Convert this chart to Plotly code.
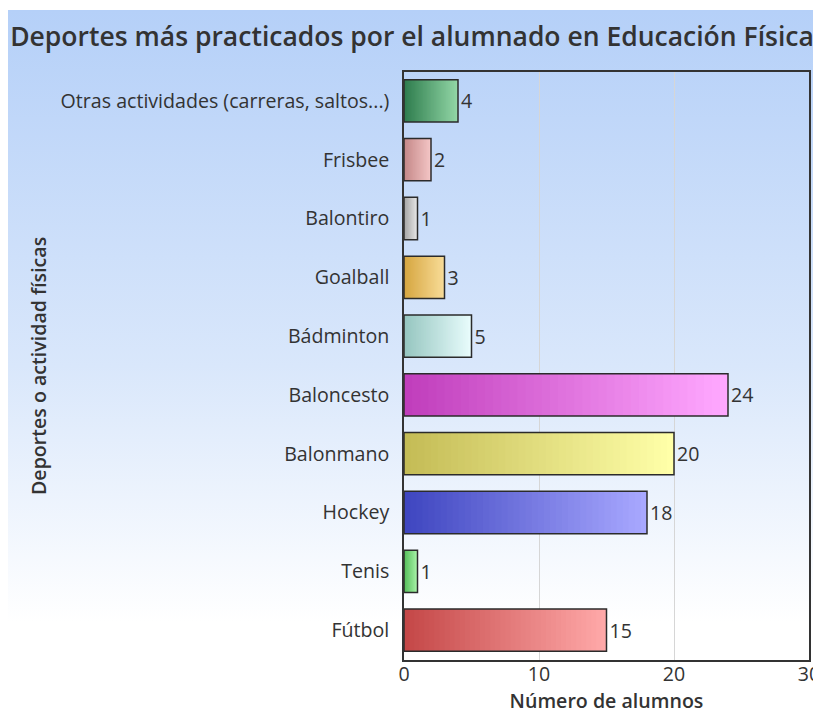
import base64
import plotly.graph_objects as go

# ---- data ----
categories = ["Fútbol", "Tenis", "Hockey", "Balonmano", "Baloncesto",
              "Bádminton", "Goalball", "Balontiro", "Frisbee",
              "Otras actividades (carreras, saltos...)"]
values = [15, 1, 18, 20, 24, 5, 3, 1, 2, 4]
color_left = ["#c44848", "#56be5a", "#3f46c0", "#c4bc56", "#c03ebc",
              "#96c6c0", "#d6a640", "#a6a6a6", "#c48888", "#2f7d4e"]
color_right = ["#ffa8a8", "#a8f2a8", "#a8a8ff", "#ffffa8", "#ffa8ff",
               "#e8fcfc", "#f8dc98", "#e6e6e6", "#f4c6c6", "#92d6a6"]
x_ticks = [0, 10, 20, 30]
title_text = "Deportes más practicados por el alumnado en Educación Física"
x_title = "Número de alumnos"
y_title = "Deportes o actividad físicas"

# page body has an 8px default margin, so the figure is 813x714 inside the 821x722 window
W, H = 813, 714
FONT = "Open Sans"
FS = 19.6


def hex2rgb(h):
    h = h.lstrip("#")
    return tuple(int(h[i:i + 2], 16) for i in (0, 2, 4))


def mix(c1, c2, t):
    a, b = hex2rgb(c1), hex2rgb(c2)
    return "rgb(%d,%d,%d)" % tuple(round(a[k] + (b[k] - a[k]) * t) for k in range(3))


fig = go.Figure()

# gradient bars: layered segments, each from fraction i/N of the value to the end
N = 40
for i in range(N):
    t = i / (N - 1)
    fig.add_trace(go.Bar(
        y=categories,
        x=[v * (1 - i / N) for v in values],
        base=[v * i / N for v in values],
        orientation="h",
        width=0.72,
        marker=dict(color=[mix(l, r, t) for l, r in zip(color_left, color_right)],
                    line=dict(width=0)),
        hoverinfo="skip",
        showlegend=False,
    ))

# outline + labels
fig.add_trace(go.Bar(
    y=categories,
    x=values,
    orientation="h",
    width=0.72,
    marker=dict(color="rgba(0,0,0,0)", line=dict(color="#2b2b2b", width=1.5)),
    text=[str(v) for v in values],
    textposition="outside",
    textfont=dict(family=FONT, size=FS, color="#333333"),
    cliponaxis=False,
    showlegend=False,
))

# background gradient via SVG image
svg = ('<svg xmlns="http://www.w3.org/2000/svg" width="100" height="100" preserveAspectRatio="none">'
       '<defs><linearGradient id="g" x1="0" y1="0" x2="0" y2="1">'
       '<stop offset="0" stop-color="#b5d0f8"/>'
       '<stop offset="0.5" stop-color="#d9e7fb"/>'
       '<stop offset="0.86" stop-color="#ffffff"/>'
       '<stop offset="1" stop-color="#ffffff"/>'
       '</linearGradient></defs>'
       '<rect width="100" height="100" fill="url(#g)"/></svg>')
src = "data:image/svg+xml;base64," + base64.b64encode(svg.encode()).decode()

left_px, top_px, right_px, bottom_px = 396, 63.5, 801, 651.5

fig.update_layout(
    width=W, height=H,
    margin=dict(l=0, r=0, t=0, b=0),
    paper_bgcolor="white",
    plot_bgcolor="rgba(0,0,0,0)",
    barmode="overlay",
    font=dict(family=FONT, size=FS, color="#333333"),
    title=dict(text=title_text, x=404 / W, xanchor="center", xref="container",
               y=1 - 29 / H, yanchor="middle", yref="container",
               font=dict(family=FONT, size=26.5, color="#333333", weight=600)),
    images=[dict(source=src, xref="paper", yref="paper",
                 x=0, y=1 - 2 / H, sizex=1, sizey=(H - 2) / H,
                 xanchor="left", yanchor="top", sizing="stretch", layer="below")],
    xaxis=dict(
        domain=[left_px / W, right_px / W],
        range=[0, 30], tickvals=x_ticks, ticks="",
        ticklabelstandoff=-4,
        showgrid=True, gridcolor="#d6d6d6", gridwidth=1,
        zeroline=False,
        showline=True, linecolor="#333333", linewidth=1.5, mirror=True,
        tickfont=dict(family=FONT, size=FS, color="#333333"),
        title=dict(text=x_title, standoff=8,
                   font=dict(family=FONT, size=FS, color="#333333", weight=600)),
        automargin=False, fixedrange=True,
    ),
    yaxis=dict(
        domain=[1 - bottom_px / H, 1 - top_px / H],
        type="category", categoryorder="array", categoryarray=categories,
        range=[-0.5, len(categories) - 0.5],
        ticks="", ticklabelstandoff=9,
        showgrid=False, zeroline=False,
        showline=True, linecolor="#333333", linewidth=1.5, mirror=True,
        tickfont=dict(family=FONT, size=FS, color="#333333"),
        automargin=False, fixedrange=True,
    ),
    annotations=[dict(text=y_title, textangle=-90, xref="paper", yref="paper",
                      x=30 / W, y=1 - 358 / H, xanchor="center", yanchor="middle",
                      showarrow=False,
                      font=dict(family=FONT, size=FS, color="#333333", weight=600))],
)

fig.write_html("out.html")
